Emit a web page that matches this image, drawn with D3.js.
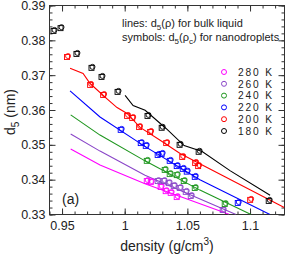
<!DOCTYPE html>
<html>
<head>
<meta charset="utf-8">
<script src="https://cdn.jsdelivr.net/npm/d3@7"></script>
<style>
  body { margin: 0; background: #fff; }
  svg text { font-family: "Liberation Sans", Arial, sans-serif; fill: #222; }
</style>
</head>
<body>
<svg width="289" height="256"></svg>
<script>
"use strict";

// temperatures, top to bottom in the legend
const temps = ["280 K", "260 K", "240 K", "220 K", "200 K", "180 K"];
const colors = ["#ff00ff", "#8a46c8", "#1e961e", "#0000ff", "#ff0000", "#000000"];

// bulk liquid d5(rho) lines: [density, d5]
const line280 = [[0.9569, 0.3488], [0.9803, 0.3442], [1.0162, 0.3388], [1.0832, 0.3301]];
const line260 = [[0.9569, 0.3531], [0.9803, 0.3482], [1.0162, 0.3413], [1.0888, 0.3300]];
const line240 = [[0.9569, 0.3586], [0.9803, 0.3528], [1.0162, 0.3454], [1.0600, 0.3370], [1.1008, 0.3300]];
const line220 = [[0.9564, 0.3655], [0.9803, 0.3580], [1.0154, 0.3497], [1.0600, 0.3400], [1.1159, 0.3300]];
const line200 = [[0.9564, 0.3720], [0.9668, 0.3705], [0.9724, 0.3676], [0.9859, 0.3632], [0.9939, 0.3607],
  [1.0019, 0.3590], [1.0123, 0.3550], [1.0283, 0.3513], [1.0442, 0.3475], [1.1273, 0.3320]];
const line180 = [[1.0003, 0.3642], [1.0067, 0.3613], [1.0163, 0.3599], [1.0330, 0.3547], [1.0474, 0.3498],
  [1.0618, 0.3481], [1.0840, 0.3426], [1.1160, 0.3355]];

// nanodroplet d5(rho_c) symbols: [density, d5]
const drops280 = [[1.0176, 0.3396], [1.0208, 0.3393], [1.0287, 0.3379], [1.0327, 0.3367], [1.0367, 0.3362], [1.0415, 0.3350]];
const drops260 = [[1.0263, 0.3396], [1.0311, 0.3396], [1.0351, 0.3390], [1.0391, 0.3382], [1.0439, 0.3376],
  [1.0487, 0.3365], [1.0527, 0.3353], [1.0782, 0.3313]];
const drops240 = [[1.0176, 0.3454], [1.0319, 0.3428], [1.0359, 0.3416], [1.0415, 0.3413], [1.0471, 0.3396],
  [1.0559, 0.3376], [1.0798, 0.3330]];
const drops220 = [[0.9968, 0.3543], [1.0128, 0.3505], [1.0168, 0.3497], [1.0263, 0.3471], [1.0295, 0.3474],
  [1.0359, 0.3454], [1.0415, 0.3439], [1.0463, 0.3431], [1.0495, 0.3423], [1.0559, 0.3408], [1.0902, 0.3333]];
const drops200 = [[0.9540, 0.3752], [0.9724, 0.3672], [0.9828, 0.3643], [1.0019, 0.3583], [1.0060, 0.3577],
  [1.0115, 0.3551], [1.0203, 0.3537], [1.0331, 0.3505], [1.0459, 0.3465], [1.0562, 0.3448], [1.0586, 0.3439], [1.1001, 0.3342]];
const drops180 = [[0.9432, 0.3827], [0.9488, 0.3835], [0.9615, 0.3761], [0.9735, 0.3721], [0.9815, 0.3695],
  [0.9943, 0.3652], [1.0182, 0.3583], [1.0295, 0.3549], [1.0438, 0.3500], [1.0590, 0.3480], [1.1149, 0.3339]];

const xTicks = [0.95, 1, 1.05, 1.1];
const yTicks = [0.33, 0.34, 0.35, 0.36, 0.37, 0.38, 0.39];

const lines = [line280, line260, line240, line220, line200, line180];
const drops = [drops280, drops260, drops240, drops220, drops200, drops180];

/////////////////////////////////////////////////////
// setup
/////////////////////////////////////////////////////
const svg = d3.select("svg");
const plotL = 49.5, plotR = 284.5, plotT = 5.5, plotB = 214.5;

const x = d3.scaleLinear().domain([0.94, 1.1275]).range([plotL, plotR]);
const y = d3.scaleLinear().domain([0.33, 0.39]).range([plotB, plotT]);

svg.append("clipPath").attr("id", "clip")
  .append("rect")
  .attr("x", plotL).attr("y", plotT)
  .attr("width", plotR - plotL).attr("height", plotB - plotT);

/////////////////////////////////////////////////////
// axes: inward ticks on all four sides
/////////////////////////////////////////////////////
const minorX = d3.range(0.94, 1.128, 0.01);
const minorY = d3.range(0.33, 0.3901, 0.002);

const tickStyle = (g) => {
  g.select(".domain").remove();
  g.selectAll("line").attr("stroke", "#333");
};

svg.append("g").attr("transform", `translate(0,${plotB})`)
  .call(d3.axisBottom(x).tickValues(minorX).tickSize(-3).tickFormat(""))
  .call(tickStyle);
svg.append("g").attr("transform", `translate(0,${plotB})`)
  .call(d3.axisBottom(x).tickValues(xTicks).tickSize(-6).tickPadding(7).tickFormat(d3.format("")))
  .call(tickStyle)
  .selectAll("text").attr("font-size", 12.5).attr("fill", "#222");
svg.append("g").attr("transform", `translate(0,${plotT})`)
  .call(d3.axisTop(x).tickValues(minorX).tickSize(-3).tickFormat(""))
  .call(tickStyle);
svg.append("g").attr("transform", `translate(0,${plotT})`)
  .call(d3.axisTop(x).tickValues(xTicks).tickSize(-6).tickFormat(""))
  .call(tickStyle);

svg.append("g").attr("transform", `translate(${plotL},0)`)
  .call(d3.axisLeft(y).tickValues(minorY).tickSize(-3).tickFormat(""))
  .call(tickStyle);
svg.append("g").attr("transform", `translate(${plotL},0)`)
  .call(d3.axisLeft(y).tickValues(yTicks).tickSize(-6).tickPadding(4).tickFormat(d3.format(".2f")))
  .call(tickStyle)
  .selectAll("text").attr("font-size", 12.5).attr("fill", "#222");
svg.append("g").attr("transform", `translate(${plotR},0)`)
  .call(d3.axisRight(y).tickValues(minorY).tickSize(-3).tickFormat(""))
  .call(tickStyle);
svg.append("g").attr("transform", `translate(${plotR},0)`)
  .call(d3.axisRight(y).tickValues(yTicks).tickSize(-6).tickFormat(""))
  .call(tickStyle);

svg.append("rect")
  .attr("x", plotL).attr("y", plotT)
  .attr("width", plotR - plotL).attr("height", plotB - plotT)
  .attr("fill", "none").attr("stroke", "#333");

/////////////////////////////////////////////////////
// lines and symbols
/////////////////////////////////////////////////////
const lineGen = d3.line().x((d) => x(d[0])).y((d) => y(d[1]));
const plot = svg.append("g").attr("clip-path", "url(#clip)");

lines.forEach((ln, i) => {
  plot.append("path")
    .attr("d", lineGen(ln))
    .attr("fill", "none")
    .attr("stroke", colors[i])
    .attr("stroke-width", 1.1);
});

drops.forEach((pts, i) => {
  const g = plot.append("g").attr("stroke", colors[i]).attr("fill", "none").attr("stroke-width", 0.9);
  g.selectAll("rect").data(pts).enter().append("rect")
    .attr("x", (d) => x(d[0]) - 2.5)
    .attr("y", (d) => y(d[1]) - 2.5)
    .attr("width", 5).attr("height", 5);
  g.selectAll("circle").data(pts).enter().append("circle")
    .attr("cx", (d) => x(d[0]) + 1)
    .attr("cy", (d) => y(d[1]) - 1)
    .attr("r", 2.5);
});

/////////////////////////////////////////////////////
// legend and labels
/////////////////////////////////////////////////////
const note = svg.append("g").attr("font-size", 11);
const t1 = note.append("text").attr("x", 122).attr("y", 27);
t1.append("tspan").text("lines: d");
t1.append("tspan").attr("font-size", 8).attr("dy", 3).text("5");
t1.append("tspan").attr("dy", -3).text("(ρ) for bulk liquid");
const t2 = note.append("text").attr("x", 122).attr("y", 41);
t2.append("tspan").text("symbols: d");
t2.append("tspan").attr("font-size", 8).attr("dy", 3).text("5");
t2.append("tspan").attr("dy", -3).text("(ρ");
t2.append("tspan").attr("font-size", 8).attr("dy", 3).text("c");
t2.append("tspan").attr("dy", -3).text(") for nanodroplets");

const legend = svg.append("g");
temps.forEach((t, i) => {
  const ly = 72 + i * 11.8;
  legend.append("circle")
    .attr("cx", 224).attr("cy", ly).attr("r", 2.5)
    .attr("fill", "none").attr("stroke", colors[i]).attr("stroke-width", 1);
  legend.append("text")
    .attr("x", 238).attr("y", ly + 3.8)
    .attr("font-size", 10.2)
    .attr("textLength", 34)
    .attr("lengthAdjust", "spacing")
    .text(t);
});

svg.append("text").attr("x", 62).attr("y", 204).attr("font-size", 14).text("(a)");

const xl = svg.append("text").attr("x", 167).attr("y", 251)
  .attr("text-anchor", "middle").attr("font-size", 14);
xl.append("tspan").text("density (g/cm");
xl.append("tspan").attr("font-size", 10).attr("dy", -6).text("3");
xl.append("tspan").attr("dy", 6).text(")");

const yl = svg.append("text")
  .attr("transform", "translate(15,112) rotate(-90)")
  .attr("text-anchor", "middle").attr("font-size", 14);
yl.append("tspan").text("d");
yl.append("tspan").attr("font-size", 10).attr("dy", 4).text("5");
yl.append("tspan").attr("dy", -4).text(" (nm)");
</script>
</body>
</html>
